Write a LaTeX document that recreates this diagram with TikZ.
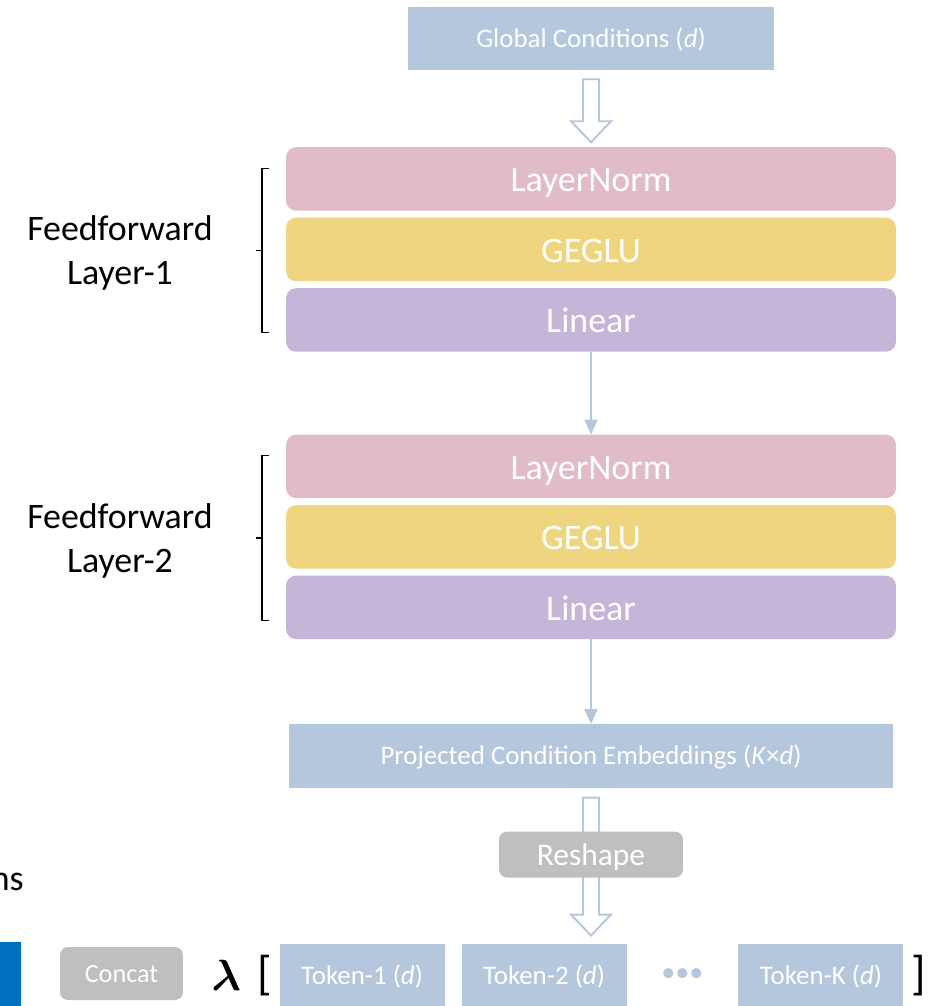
\documentclass[tikz,border=0pt]{standalone}
\usepackage{amsmath}
\usepackage{amssymb}
\usepackage{fontspec}
\setmainfont{Carlito}
\usetikzlibrary{arrows.meta, calc, positioning}
\definecolor{condblue}{HTML}{B4C7DC}
\definecolor{normpink}{HTML}{E2BBC9}
\definecolor{gegluyellow}{HTML}{F0D580}
\definecolor{linpurple}{HTML}{C5B5D8}
\definecolor{opgray}{HTML}{BFBFBF}
\definecolor{leftblue}{HTML}{0070C0}
\tikzstyle{layer} = [rectangle, rounded corners=0.2cm, minimum width=12.2cm, minimum height=1.27cm, inner sep=0pt, outer sep=0pt, text height=16.7pt, text depth=2pt, text=white, font=\fontsize{20.4}{24}\selectfont]
\tikzstyle{cond} = [rectangle, fill=condblue, minimum height=1.27cm, inner sep=0pt, outer sep=0pt, text height=12.2pt, text depth=2.3pt, text=white, font=\fontsize{15.3}{18}\selectfont]
\tikzstyle{op} = [rectangle, rounded corners=0.16cm, fill=opgray, inner sep=0pt, outer sep=0pt, text=white]
\tikzstyle{label} = [align=center, inner sep=0pt, font=\fontsize{20.4}{25}\selectfont]
\tikzstyle{arrow} = [line width=1.1pt, draw=condblue, -{Triangle[width=0.26cm,length=0.3cm]}]
\tikzstyle{hollow} = [line width=1.1pt, draw=condblue, fill=white, line join=miter]
\tikzstyle{bracket} = [line width=0.7pt, draw=black]
\newcommand{\blockarrow}[2]{\draw [hollow] ($(#1)+(-8,0)$) -- ($(#1)+(8,0)$) -- ($(#2)+(8,-21)$) -- ($(#2)+(20,-21)$) -- (#2) -- ($(#2)+(-20,-21)$) -- ($(#2)+(-8,-21)$) -- cycle;}
\begin{document}
\begin{tikzpicture}[x=0.02cm, y=-0.02cm]
		\useasboundingbox (0,0) rectangle (941,1006);
		\node (Global) [cond, minimum width=7.32cm] at (591,38.5) {Global Conditions (\textit{d})};
		\node (NormA) [layer, fill=normpink, below=1.54cm of Global] {LayerNorm};
		\node (GegluA) [layer, fill=gegluyellow, below=0.14cm of NormA] {GEGLU};
		\node (LinearA) [layer, fill=linpurple, below=0.14cm of GegluA] {Linear};
		\node (NormB) [layer, fill=normpink, below=1.66cm of LinearA] {LayerNorm};
		\node (GegluB) [layer, fill=gegluyellow, below=0.14cm of NormB] {GEGLU};
		\node (LinearB) [layer, fill=linpurple, below=0.14cm of GegluB] {Linear};
		\node (Proj) [cond, minimum width=12.1cm, below=1.7cm of LinearB] {Projected Condition Embeddings (\textit{K}×\textit{d})};
		\node (TokenTwo) [cond, minimum width=3.3cm, below=3.12cm of Proj, xshift=-0.94cm] {Token-2 (\textit{d})};
		\node (TokenOne) [cond, minimum width=3.3cm, left=0.34cm of TokenTwo] {Token-1 (\textit{d})};
		\node (TokenK) [cond, minimum width=3.3cm, right=2.24cm of TokenTwo] {Token-K (\textit{d})};
		\node (Dots) [text=condblue, inner sep=0pt, font=\fontsize{16}{18}\selectfont] at ($(TokenTwo.east)!0.5!(TokenK.west)$) {•••};
		\node (BrackL) [inner sep=0pt, font=\fontsize{27}{30}\selectfont, left=0.14cm of TokenOne] {[};
		\node (BrackR) [inner sep=0pt, font=\fontsize{27}{30}\selectfont, right=0.16cm of TokenK] {]};
		\node (Lambda) [inner sep=0pt, font=\fontsize{32}{36}\selectfont, left=0.32cm of BrackL] {$\boldsymbol{\lambda}$};
		\node (Concat) [op, minimum width=2.46cm, minimum height=1.06cm, text height=12pt, text depth=1.8pt, font=\fontsize{14.9}{17}\selectfont] at (121.5,973.5) {Concat};
		\fill [leftblue] (0,942) rectangle (21,1008);
		\node (Cut) [anchor=base east, inner sep=0pt, font=\fontsize{20.4}{24}\selectfont] at (24,890) {ns};
		\node (LabelA) [label] at (120,253) {Feedforward\\Layer-1};
		\node (LabelB) [label] at (120,541) {Feedforward\\Layer-2};
		\draw [bracket] ($(NormA.north west)+(-17,21)$) -- ++(-7,0) |- ($(LinearA.south west)+(-17,-19)$);
		\draw [bracket] ($(GegluA.west)+(-24,1)$) -- ++(-6,0);
		\draw [bracket] ($(NormB.north west)+(-17,21)$) -- ++(-7,0) |- ($(LinearB.south west)+(-17,-19)$);
		\draw [bracket] ($(GegluB.west)+(-24,1)$) -- ++(-6,0);
		\coordinate (TopA) at ($(Global.south)+(0,9)$);
		\coordinate (TipA) at ($(NormA.north)+(0,-5)$);
		\blockarrow{TopA}{TipA}
		\coordinate (TopB) at ($(Proj.south)+(0,10)$);
		\coordinate (TipB) at ($(Proj.south |- TokenTwo.north)+(0,-8)$);
		\blockarrow{TopB}{TipB}
		\node (Reshape) [op, minimum width=3.68cm, minimum height=0.92cm, text height=14.3pt, text depth=2.1pt, font=\fontsize{17.9}{20}\selectfont, below=0.88cm of Proj] {Reshape};
		\draw [arrow] (LinearA) -- (NormB);
		\draw [arrow] (LinearB) -- (Proj);
\end{tikzpicture}
\end{document}
